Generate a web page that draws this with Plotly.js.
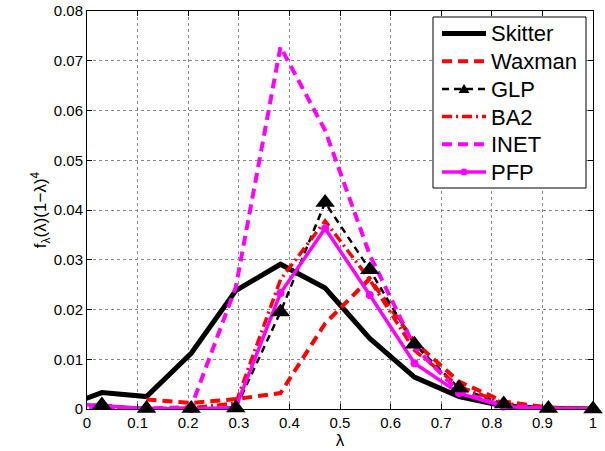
<!DOCTYPE html>
<html>
<head>
<meta charset="utf-8">
<script src="https://cdn.plot.ly/plotly-3.0.1.min.js"></script>
<style>html,body{margin:0;padding:0;background:#fff;}#chart{width:605px;height:451px;}</style>
</head>
<body>
<div id="chart"></div>
<script>
// lambda sample points (first point lies left of the visible range and is clipped)
var lambda = [-0.0588, 0.0294, 0.1176, 0.2059, 0.2941, 0.3824, 0.4706, 0.5588, 0.6471, 0.7353, 0.8235, 0.9118, 1.0];

var skitter = [0.0000, 0.0033, 0.0025, 0.0112, 0.0238, 0.0291, 0.0243, 0.0142, 0.0064, 0.0025, 0.0006, 0.0001, 0];
var waxman  = [null,   null,   0.0019, 0.0012, 0.0020, 0.0032, 0.0172, 0.0262, 0.0135, 0.0055, 0.0015, 0.0003, 0];
var glp     = [0.0010, 0.0008, 0.0001, 0.0001, 0.0002, 0.0195, 0.0415, 0.0280, 0.0130, 0.0042, 0.0010, 0.0001, 0];
var ba2     = [0.0005, 0.0005, 0.0001, 0.0002, 0.0012, 0.0260, 0.0378, 0.0260, 0.0118, 0.0045, 0.0012, 0.0001, 0];
var inet    = [0.0005, 0.0004, 0.0001, 0.0004, 0.0245, 0.0728, 0.0560, 0.0310, 0.0125, 0.0035, 0.0007, 0.0001, 0];
var pfp     = [0.0012, 0.0006, 0.0001, 0.0000, 0.0003, 0.0233, 0.0363, 0.0229, 0.0092, 0.0032, 0.0005, 0.0001, 0];

var seriesNames = ['Skitter', 'Waxman', 'GLP', 'BA2', 'INET', 'PFP'];
var xTicks = [0, 0.1, 0.2, 0.3, 0.4, 0.5, 0.6, 0.7, 0.8, 0.9, 1];
var yTicks = [0, 0.01, 0.02, 0.03, 0.04, 0.05, 0.06, 0.07, 0.08];

// styles (index matches seriesNames)
var styles = [
  {line: {color: '#000000', width: 5}},
  {line: {color: '#ff0000', width: 4, dash: '10px,6px'}},
  {line: {color: '#000000', width: 2.5, dash: '7px,5px'}, marker: 'triangle'},
  {line: {color: '#ff0000', width: 3.5, dash: '10px,4px,2px,4px'}},
  {line: {color: '#ff00ff', width: 4, dash: '10px,6px'}},
  {line: {color: '#ff00ff', width: 3.5}, marker: 'circle'}
];
var seriesData = [skitter, waxman, glp, ba2, inet, pfp];

function visX() { return lambda.filter(function (v) { return v >= 0; }); }
function visY(arr) { return arr.filter(function (v, i) { return lambda[i] >= 0; }); }

var traces = [];
seriesData.forEach(function (ys, k) {
  traces.push({x: lambda, y: ys, name: seriesNames[k], mode: 'lines', line: styles[k].line, showlegend: false});
});
// markers (may overhang the axes, as in the original)
traces.push({x: visX(), y: visY(pfp), name: 'PFP', mode: 'markers', showlegend: false, cliponaxis: false,
  marker: {symbol: 'circle', size: 8, color: '#ff00ff', line: {width: 0}}});
traces.push({x: visX(), y: visY(glp), name: 'GLP', mode: 'markers', showlegend: false, cliponaxis: false,
  marker: {symbol: 'triangle-up', size: 17, color: '#000000', line: {width: 0}}});

// ---- legend box (drawn as shapes + annotations, pixel geometry) ----
var L = 87, T = 11, PW = 506, PH = 398;
function PX(px) { return (px - L) / PW; }
function PY(py) { return (T + PH - py) / PH; }

var shapes = [];
var annotations = [];
shapes.push({type: 'rect', xref: 'paper', yref: 'paper', layer: 'above',
  x0: PX(433), x1: PX(586), y0: PY(188), y1: PY(17),
  line: {color: '#000', width: 1}, fillcolor: '#ffffff'});
var rowY = [33.5, 61.2, 88.9, 116.6, 144.3, 172];
seriesNames.forEach(function (nm, k) {
  var y = rowY[k];
  var st = styles[k].line;
  shapes.push({type: 'line', xref: 'paper', yref: 'paper', layer: 'above',
    x0: PX(442), x1: PX(486), y0: PY(y), y1: PY(y),
    line: {color: st.color, width: st.width, dash: st.dash || 'solid'}});
  if (styles[k].marker === 'triangle') {
    var h = 9, w = 11;
    shapes.push({type: 'path', xref: 'paper', yref: 'paper', layer: 'above',
      path: 'M' + PX(464 - w / 2) + ',' + PY(y + h * 0.45) + ' L' + PX(464 + w / 2) + ',' + PY(y + h * 0.45) +
            ' L' + PX(464) + ',' + PY(y - h * 0.55) + ' Z',
      line: {width: 0}, fillcolor: '#000'});
  } else if (styles[k].marker === 'circle') {
    shapes.push({type: 'circle', xref: 'paper', yref: 'paper', layer: 'above',
      x0: PX(460.5), x1: PX(467.5), y0: PY(y + 3.5), y1: PY(y - 3.5),
      line: {width: 0}, fillcolor: '#ff00ff'});
  }
  annotations.push({xref: 'paper', yref: 'paper', x: PX(489), y: PY(y + 0.5), xanchor: 'left', yanchor: 'middle',
    text: nm, showarrow: false, font: {family: 'Liberation Sans, Arial, sans-serif', size: 22, color: '#000'}});
});

var axisFont = {family: 'Liberation Sans, Arial, sans-serif', size: 15, color: '#000'};

var layout = {
  width: 605, height: 451,
  margin: {l: L, r: 12, t: T, b: 42},
  paper_bgcolor: '#ffffff', plot_bgcolor: '#ffffff',
  showlegend: false,
  shapes: shapes,
  annotations: annotations,
  xaxis: {
    range: [0, 1], tickvals: xTicks, ticktext: xTicks.map(String),
    showline: true, linecolor: '#000', linewidth: 1, mirror: 'ticks',
    ticks: 'inside', ticklen: 5, tickcolor: '#000',
    showgrid: true, gridcolor: '#888', griddash: 'dot', gridwidth: 1,
    zeroline: false, tickfont: axisFont,
    title: {text: 'λ', font: {family: 'Liberation Sans, Arial, sans-serif', size: 17, color: '#000'}, standoff: 2}
  },
  yaxis: {
    range: [0, 0.08], tickvals: yTicks, ticktext: yTicks.map(String),
    showline: true, linecolor: '#000', linewidth: 1, mirror: 'ticks',
    ticks: 'inside', ticklen: 5, tickcolor: '#000',
    showgrid: true, gridcolor: '#888', griddash: 'dot', gridwidth: 1,
    zeroline: false, tickfont: axisFont,
    title: {text: 'f<sub>λ</sub>(λ)(1−λ)<sup>4</sup>', font: {family: 'Liberation Sans, Arial, sans-serif', size: 17, color: '#000'}, standoff: 2}
  }
};

Plotly.newPlot('chart', traces, layout, {displayModeBar: false, staticPlot: true});
</script>
</body>
</html>
